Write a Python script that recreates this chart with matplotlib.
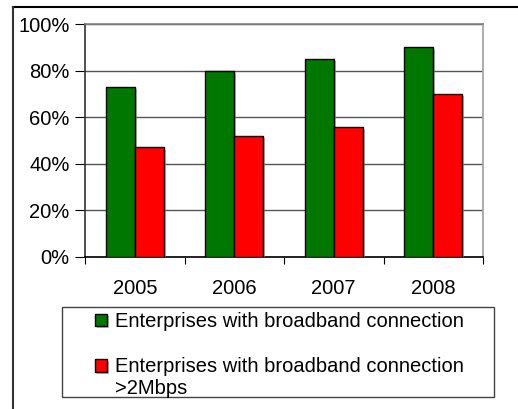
import numpy as np
import matplotlib
matplotlib.use("Agg")
import matplotlib.pyplot as plt
import matplotlib.patheffects as pe
from matplotlib.patches import Rectangle
from matplotlib.lines import Line2D

years = ["2005", "2006", "2007", "2008"]
broadband = [73, 80, 85, 90]
broadband_2mbps = [47, 52, 56, 70]
series_labels = ["Enterprises with broadband connection",
                 "Enterprises with broadband connection"]
label_wrap = ">2Mbps"

plt.rcParams["font.family"] = ["Liberation Sans", "DejaVu Sans"]
plt.rcParams["font.size"] = 14.5

W, H = 518, 409
fig = plt.figure(figsize=(W / 100, H / 100), dpi=100)
ax = fig.add_axes([85 / W, 1 - 257 / H, 398 / W, 233 / H])

x = np.arange(len(years))
width = 0.29
shadow = [pe.SimplePatchShadow(offset=(1.5, -1.5), shadow_rgbFace="#909090", alpha=0.6),
          pe.Normal()]
b1 = ax.bar(x - width / 2, broadband, width, color="#007800", edgecolor="black",
            linewidth=1, label=series_labels[0], zorder=3)
b2 = ax.bar(x + width / 2, broadband_2mbps, width, color="#ff0000", edgecolor="black",
            linewidth=1, label=series_labels[1], zorder=3)
for bar in list(b1) + list(b2):
    bar.set_path_effects(shadow)

ax.set_xlim(-0.5, len(years) - 0.5)
ax.set_ylim(0, 100)
ax.set_yticks(np.arange(0, 101, 20))
ax.set_yticklabels([f"{v}%" for v in range(0, 101, 20)])
ax.yaxis.grid(True, color="#555555", linewidth=1)
ax.set_axisbelow(True)

# category ticks between groups, labels centred under each group
ax.set_xticks(np.arange(-0.5, len(years), 1))
ax.set_xticklabels([])
ax.set_xticks(x, minor=True)
ax.set_xticklabels(years, minor=True)
ax.tick_params(axis="x", which="major", length=5, color="black", direction="out")
ax.tick_params(axis="x", which="minor", length=0, pad=16)
ax.tick_params(axis="y", length=7, color="black", pad=4)

ax.spines["left"].set_color("#333333")
ax.spines["bottom"].set_color("black")
ax.spines["top"].set_color("#808080")
ax.spines["right"].set_color("#a0a0a0")
for s in ax.spines.values():
    s.set_linewidth(1.2)

# outer chart frame (top and left edges)
fig.add_artist(Line2D([13 / W, 1], [1 - 7 / H, 1 - 7 / H], color="black", lw=1.5,
                      transform=fig.transFigure))
fig.add_artist(Line2D([13 / W, 13 / W], [0, 1 - 7 / H], color="#333333", lw=1.5,
                      transform=fig.transFigure))

# legend box
fig.add_artist(Rectangle((62 / W, 1 - 397 / H), 432 / W, 90 / H, fill=False,
                         edgecolor="#444444", lw=1, transform=fig.transFigure))
leg = fig.legend(handles=[b1, b2], labels=series_labels, loc="upper left",
                 bbox_to_anchor=(81 / W, 1 - 298 / H), frameon=False,
                 handlelength=0.6, handleheight=0.6, handletextpad=0.4,
                 labelspacing=1.3, borderpad=0.2, fontsize=14.5)
# second line of the wrapped series label
fig.text(115 / W, 1 - 388 / H, label_wrap, fontsize=14.5, va="center", ha="left")

fig.savefig("out.png", dpi=100)
